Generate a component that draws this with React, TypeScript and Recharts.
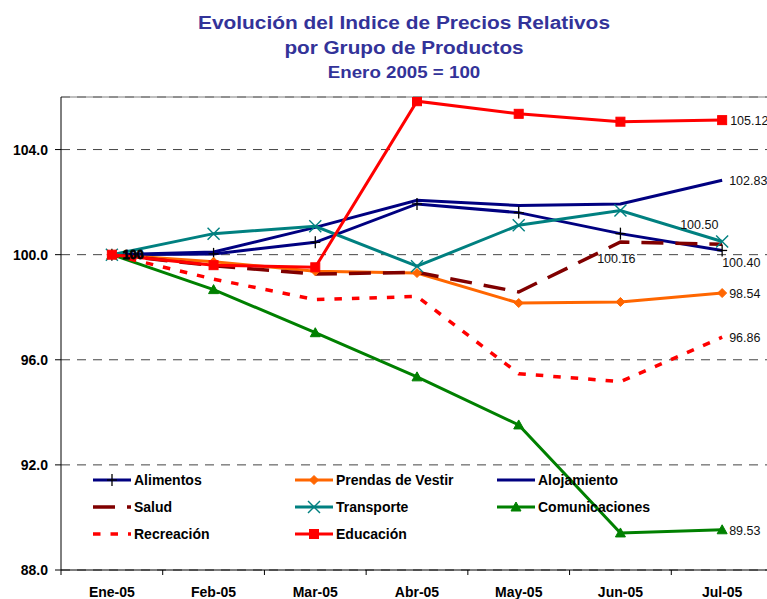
import React from 'react';
import { LineChart, Line, XAxis, YAxis, CartesianGrid, ReferenceLine, LabelList } from 'recharts';

const months = ['Ene-05', 'Feb-05', 'Mar-05', 'Abr-05', 'May-05', 'Jun-05', 'Jul-05'];
const alimentos = [100, 100.03, 100.47, 101.93, 101.6, 100.8, 100.16];
const prendas = [100, 99.73, 99.37, 99.3, 98.16, 98.2, 98.54];
const alojamiento = [100, 100.1, 101.04, 102.07, 101.87, 101.93, 102.83];
const salud = [100, 99.58, 99.26, 99.33, 98.58, 100.48, 100.4];
const transporte = [100, 100.8, 101.08, 99.56, 101.12, 101.68, 100.5];
const comunicaciones = [100, 98.67, 97.03, 95.35, 93.52, 89.41, 89.53];
const recreacion = [100, 99.07, 98.29, 98.41, 95.47, 95.17, 96.86];
const educacion = [100, 99.6, 99.52, 105.84, 105.36, 105.06, 105.12];
const yTicks = [88, 92, 96, 100, 104];

const FONT = 'Liberation Sans, Arial, Helvetica, sans-serif';
const BAND = 712 / 7;

type Mk = 'plus' | 'diamond' | 'none' | 'x' | 'triangle' | 'square';
interface S {
  key: string; name: string; values: number[]; color: string; width: number;
  dash?: string; marker: Mk; lastDx: number; lastDy: number; showFirst: boolean;
}

const series: S[] = [
  { key: 'alimentos', name: 'Alimentos', values: alimentos, color: '#000080', width: 3, marker: 'plus', lastDx: -125, lastDy: 8, showFirst: false },
  { key: 'prendas', name: 'Prendas de Vestir', values: prendas, color: '#FF6600', width: 3, marker: 'diamond', lastDx: 7, lastDy: 0.5, showFirst: false },
  { key: 'alojamiento', name: 'Alojamiento', values: alojamiento, color: '#000080', width: 3, marker: 'none', lastDx: 7, lastDy: 0, showFirst: false },
  { key: 'salud', name: 'Salud', values: salud, color: '#800000', width: 3.5, dash: '22 12', marker: 'none', lastDx: 0, lastDy: 18.5, showFirst: false },
  { key: 'transporte', name: 'Transporte', values: transporte, color: '#008080', width: 3, marker: 'x', lastDx: -42, lastDy: -17, showFirst: false },
  { key: 'comunicaciones', name: 'Comunicaciones', values: comunicaciones, color: '#008000', width: 3, marker: 'triangle', lastDx: 7, lastDy: 1, showFirst: false },
  { key: 'recreacion', name: 'Recreación', values: recreacion, color: '#FF0000', width: 3.5, dash: '7.5 10', marker: 'none', lastDx: 7, lastDy: 0, showFirst: false },
  { key: 'educacion', name: 'Educación', values: educacion, color: '#FF0000', width: 3, marker: 'square', lastDx: 8, lastDy: 0.5, showFirst: true },
];

const data = months.map((m, i) => {
  const row: Record<string, any> = { month: m };
  series.forEach((s) => { row[s.key] = s.values[i]; });
  return row;
});

function Marker({ type, cx, cy, color }: { type: Mk; cx: number; cy: number; color: string }) {
  if (cx == null || cy == null) return <g />;
  switch (type) {
    case 'plus':
      return (
        <g>
          <line x1={cx - 5} x2={cx + 5} y1={cy} y2={cy} stroke="#000" strokeWidth={1.3} />
          <line x1={cx} x2={cx} y1={cy - 6} y2={cy + 6} stroke="#000" strokeWidth={1.3} />
        </g>
      );
    case 'diamond':
      return <polygon points={`${cx},${cy - 4.5} ${cx + 4.5},${cy} ${cx},${cy + 4.5} ${cx - 4.5},${cy}`} fill={color} stroke={color} />;
    case 'x':
      return (
        <g>
          <line x1={cx - 6} x2={cx + 6} y1={cy - 6} y2={cy + 6} stroke={color} strokeWidth={1.4} />
          <line x1={cx - 6} x2={cx + 6} y1={cy + 6} y2={cy - 6} stroke={color} strokeWidth={1.4} />
        </g>
      );
    case 'triangle':
      return <polygon points={`${cx},${cy - 5} ${cx + 5},${cy + 4} ${cx - 5},${cy + 4}`} fill={color} stroke={color} />;
    case 'square':
      return <rect x={cx - 4.5} y={cy - 4.5} width={9} height={9} fill={color} stroke={color} />;
    default:
      return <g />;
  }
}

const XTick = (props: any) => {
  const { x, y, payload } = props;
  return (
    <g>
      <line x1={x - BAND / 2} x2={x - BAND / 2} y1={y} y2={y + 5} stroke="#000" strokeWidth={1} />
      <text x={x} y={y + 26.5} textAnchor="middle" fontFamily={FONT} fontSize={14} fontWeight="bold" fill="#000">
        {payload.value}
      </text>
    </g>
  );
};

function renderLabel(p: any, s: S) {
  const x = p.x ?? p.viewBox?.x;
  const y = p.y ?? p.viewBox?.y;
  const idx = p.index;
  if (x == null || y == null) return null;
  if (idx === 0 && s.showFirst) {
    return (
      <text key={`${s.key}-l0`} x={x + 11} y={y + 4.3} fontFamily={FONT} fontSize={12.5} fontWeight="bold"
        fill="#000" stroke="#000" strokeWidth={0.9}>
        {Number(p.value).toFixed(0)}
      </text>
    );
  }
  if (idx === months.length - 1) {
    return (
      <text key={`${s.key}-l6`} x={x + s.lastDx} y={y + s.lastDy + 4.5} fontFamily={FONT} fontSize={12.5} fill="#111">
        {Number(p.value).toFixed(2)}
      </text>
    );
  }
  return null;
}

const legendCols = [93, 295, 497];
const legendRows = [480, 507, 534];

export default function App() {
  return (
    <div style={{ position: 'absolute', left: 0, top: 0, width: 767, height: 599, overflow: 'hidden', background: '#fff' }}>
      <LineChart width={780} height={599} data={data} margin={{ top: 97, right: 7, bottom: 0, left: 0 }}>
        <CartesianGrid vertical={false} stroke="#444" strokeDasharray="9 7" />
        <ReferenceLine y={106} stroke="#808080" strokeWidth={1} />
        <XAxis
          dataKey="month"
          height={29}
          padding={{ left: BAND / 2, right: BAND / 2 }}
          interval={0}
          tickLine={false}
          tickSize={0}
          tickMargin={0}
          axisLine={{ stroke: '#000', strokeWidth: 1 }}
          tick={<XTick />}
        />
        <YAxis
          type="number"
          width={61}
          domain={[88, 106]}
          ticks={yTicks}
          allowDataOverflow
          tickFormatter={(v: number) => v.toFixed(1)}
          tickSize={6}
          tickMargin={7}
          tickLine={{ stroke: '#000' }}
          axisLine={{ stroke: '#000', strokeWidth: 1 }}
          tick={{ fill: '#000', fontSize: 14, fontWeight: 'bold', fontFamily: FONT }}
        />
        {series.map((s) => (
          <Line
            key={s.key}
            dataKey={s.key}
            name={s.name}
            type="linear"
            stroke={s.color}
            strokeWidth={s.width}
            strokeDasharray={s.dash}
            isAnimationActive={false}
            dot={
              s.marker === 'none'
                ? false
                : (p: any) => <Marker key={`${s.key}-d${p.index}`} type={s.marker} cx={p.cx} cy={p.cy} color={s.color} />
            }
            activeDot={false}
          >
            <LabelList dataKey={s.key} content={(p: any) => renderLabel(p, s)} />
          </Line>
        ))}
      </LineChart>
      <svg width={767} height={599} style={{ position: 'absolute', left: 0, top: 0, pointerEvents: 'none' }}>
        <g transform="translate(404,29.3) scale(1.13,1)">
          <text x={0} y={0} textAnchor="middle" fontFamily={FONT} fontSize={18.5} fontWeight="bold" fill="#333399">
            Evolución del Indice de Precios Relativos
          </text>
        </g>
        <g transform="translate(404,54) scale(1.12,1)">
          <text x={0} y={0} textAnchor="middle" fontFamily={FONT} fontSize={18.5} fontWeight="bold" fill="#333399">
            por Grupo de Productos
          </text>
        </g>
        <g transform="translate(404,78.3) scale(1.17,1)">
          <text x={0} y={0} textAnchor="middle" fontFamily={FONT} fontSize={16} fontWeight="bold" fill="#333399">
            Enero 2005 = 100
          </text>
        </g>
        {series.map((s, i) => {
          const sx = legendCols[i % 3];
          const cy = legendRows[Math.floor(i / 3)];
          return (
            <g key={`lg-${s.key}`}>
              <line x1={sx} x2={sx + 38} y1={cy} y2={cy} stroke={s.color} strokeWidth={s.width} strokeDasharray={s.dash} />
              <Marker type={s.marker} cx={sx + 19} cy={cy} color={s.color} />
              <text x={sx + 41} y={cy + 5} fontFamily={FONT} fontSize={14} fontWeight="bold" fill="#000">
                {s.name}
              </text>
            </g>
          );
        })}
      </svg>
    </div>
  );
}
